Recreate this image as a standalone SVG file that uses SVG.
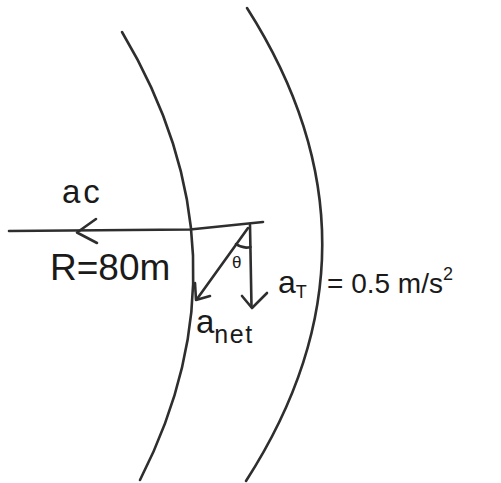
<svg xmlns="http://www.w3.org/2000/svg" width="501" height="483" viewBox="0 0 501 483">
<defs>
<style>
.ink{fill:none;stroke:#2e2e2e;stroke-width:2.6;stroke-linecap:round;stroke-linejoin:round}
.lbl{font-family:"Liberation Sans","DejaVu Sans",sans-serif;fill:#1a1a1a}
</style>
</defs>
<rect width="501" height="483" fill="#ffffff"/>
<g id="inner-edge"><path class="ink" d="M122,32 Q255,255 140,480"/></g>
<g id="outer-edge"><path class="ink" d="M247,8 Q398,245 246,481"/></g>
<g id="connectors">
<path id="radius-line" class="ink" d="M9,231 L190,229.5 L263,222"/>
<path id="ac-arrowhead" class="ink" d="M96,219 L77,232.5 L97,243"/>
<path id="aT-vector" class="ink" d="M250,225 L251.5,307"/>
<path id="aT-arrowhead" class="ink" d="M242,296 L252,308 L267,293"/>
<path id="anet-vector" class="ink" d="M248,228 L197,299"/>
<path id="anet-arrowhead" class="ink" d="M195,283 L196,300 L210,296"/>
<path id="theta-arc" class="ink" stroke-width="2" d="M236,244 Q243,249 250.5,247"/>
</g>
<g id="label-ac"><text class="lbl" x="62" y="203" font-size="33" letter-spacing="3">ac</text></g>
<g id="label-R"><text class="lbl" x="50" y="280" font-size="37">R=80m</text></g>
<g id="label-theta"><text class="lbl" x="232" y="268" font-size="17">θ</text></g>
<g id="label-anet"><text class="lbl" x="196" y="333" font-size="33">a<tspan font-size="25" dy="10" letter-spacing="1.5">net</tspan></text></g>
<g id="label-aT"><text class="lbl" x="278" y="293" font-size="32">a<tspan font-size="18" dy="5">T</tspan></text>
<text class="lbl" x="327" y="293" font-size="28">= 0.5 m/s<tspan font-size="18" dy="-13">2</tspan></text></g>
</svg>
